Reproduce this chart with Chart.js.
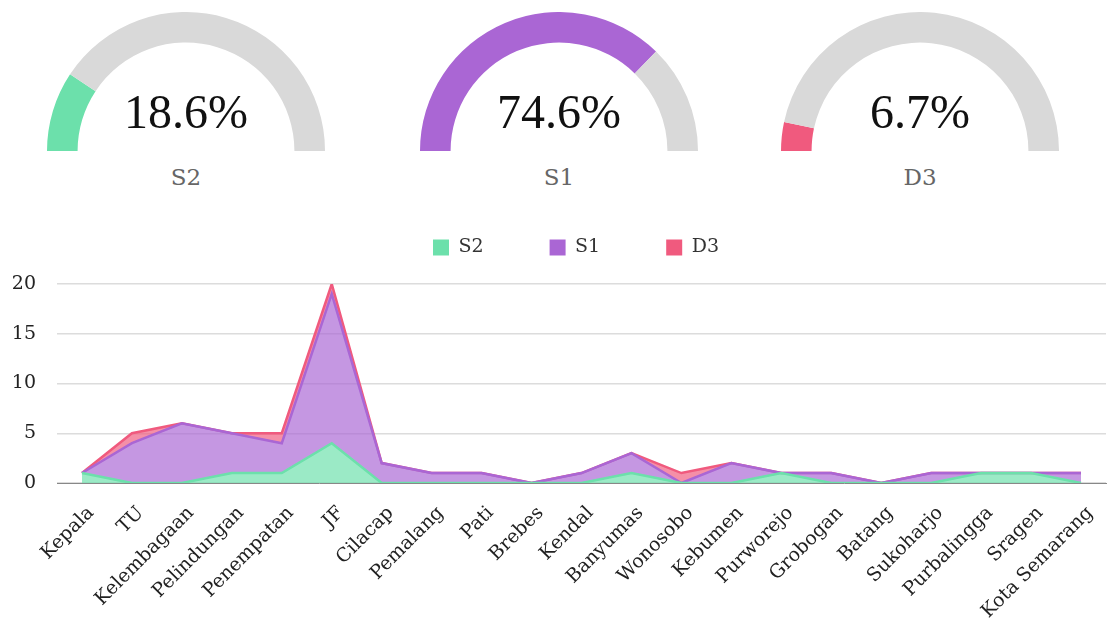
<!DOCTYPE html>
<html>
<head>
<meta charset="utf-8">
<script src="https://cdn.jsdelivr.net/npm/chart.js@4.4.1/dist/chart.umd.min.js"></script>
<style>
  body { margin: 0; background: #fff; width: 1110px; height: 622px; overflow: hidden; position: relative; font-family: "DejaVu Serif", serif; }
  .gauge { position: absolute; top: 12px; width: 278px; height: 139px; }
  .persen { position: absolute; top: 84px; width: 278px; text-align: center; font-family: "Liberation Serif", serif; font-size: 48px; color: #111; }
  .nama { position: absolute; top: 164px; width: 278px; text-align: center; font-size: 23px; color: #666; }
  #wrapLine { position: absolute; left: 0; top: 172px; width: 1110px; height: 450px; }
</style>
</head>
<body>
<div class="gauge" style="left:47px"><canvas id="gauge0"></canvas></div>
<div class="gauge" style="left:420px"><canvas id="gauge1"></canvas></div>
<div class="gauge" style="left:781px"><canvas id="gauge2"></canvas></div>
<div class="persen" id="persen0" style="left:47px"></div>
<div class="persen" id="persen1" style="left:420px"></div>
<div class="persen" id="persen2" style="left:781px"></div>
<div class="nama" id="nama0" style="left:47px"></div>
<div class="nama" id="nama1" style="left:420px"></div>
<div class="nama" id="nama2" style="left:781px"></div>
<div id="wrapLine"><canvas id="chartPendidikan"></canvas></div>

<script>
// data pendidikan per unit
const unitKerja = ['Kepala', 'TU', 'Kelembagaan', 'Pelindungan', 'Penempatan', 'JF', 'Cilacap', 'Pemalang', 'Pati', 'Brebes', 'Kendal', 'Banyumas', 'Wonosobo', 'Kebumen', 'Purworejo', 'Grobogan', 'Batang', 'Sukoharjo', 'Purbalingga', 'Sragen', 'Kota Semarang']
const dataS2 = [1, 0, 0, 1, 1, 4, 0, 0, 0, 0, 0, 1, 0, 0, 1, 0, 0, 0, 1, 1, 0]
const dataS1 = [0, 4, 6, 4, 3, 15, 2, 1, 1, 0, 1, 2, 0, 2, 0, 1, 0, 1, 0, 0, 1]
const dataD3 = [0, 1, 0, 0, 1, 1, 0, 0, 0, 0, 0, 0, 1, 0, 0, 0, 0, 0, 0, 0, 0]

const jenjang = ['S2', 'S1', 'D3']
const persenJenjang = [18.6, 74.6, 6.7]
const yTicks = [0, 5, 10, 15, 20]

const warna = ['#6ce0ab', '#aa66d4', '#f05a7e']
const warnaArea = ['rgba(108, 224, 171, 0.68)', 'rgba(170, 102, 212, 0.68)', 'rgba(240, 90, 126, 0.68)']

// gauge setengah lingkaran
jenjang.forEach(function (nama, i) {
    document.getElementById('persen' + i).textContent = persenJenjang[i] + '%'
    document.getElementById('nama' + i).textContent = nama

    const ctxGauge = document.getElementById('gauge' + i).getContext('2d')
    new Chart(ctxGauge, {
        type: 'doughnut',
        data: {
            labels: [nama, ''],
            datasets: [{
                data: [persenJenjang[i], 100 - persenJenjang[i]],
                backgroundColor: [warna[i], '#d9d9d9'],
                borderWidth: 0,
                hoverOffset: 0
            }]
        },
        options: {
            responsive: true,
            maintainAspectRatio: false,
            animation: false,
            rotation: -90,
            circumference: 180,
            cutout: '78%',
            plugins: {
                legend: { display: false },
                tooltip: { enabled: false }
            }
        }
    })
})

// legend dikasih jarak ke bawah, digeser sedikit ke kanan
const jarakLegend = {
    id: 'jarakLegend',
    beforeInit(chart) {
        const fitAsli = chart.legend.fit
        chart.legend.fit = function fit() {
            fitAsli.bind(chart.legend)()
            this.height = 112
            if (this.lineWidths && this.lineWidths.length) {
                this.lineWidths[0] -= 34
            }
        }
    }
}

const datasetsLine = [dataS2, dataS1, dataD3].map(function (isi, i) {
    return {
        label: jenjang[i],
        data: isi,
        borderColor: warna[i],
        backgroundColor: warnaArea[i],
        borderWidth: 2.5,
        pointRadius: 0,
        tension: 0,
        fill: i === 0 ? 'origin' : '-1'
    }
})

const ctxLine = document.getElementById('chartPendidikan').getContext('2d')
const chartPendidikan = new Chart(ctxLine, {
    type: 'line',
    data: {
        labels: unitKerja,
        datasets: datasetsLine
    },
    plugins: [jarakLegend],
    options: {
        responsive: true,
        maintainAspectRatio: false,
        animation: false,
        layout: {
            padding: { left: 12, right: 4, bottom: 3 }
        },
        plugins: {
            legend: {
                display: true,
                labels: {
                    color: '#333',
                    boxWidth: 16,
                    boxHeight: 16,
                    padding: 66,
                    font: { family: 'DejaVu Serif', size: 19 },
                    generateLabels: function (chart) {
                        const items = Chart.defaults.plugins.legend.labels.generateLabels(chart)
                        items.forEach(function (item, i) {
                            item.fillStyle = warna[i]
                            item.strokeStyle = warna[i]
                            item.lineWidth = 0
                        })
                        return items
                    }
                }
            },
            tooltip: { enabled: false }
        },
        scales: {
            x: {
                offset: true,
                grid: { display: false },
                border: { color: '#888' },
                afterFit: function (scale) {
                    scale.paddingLeft = 0
                    scale.paddingRight = 0
                    scale.height = 136
                },
                ticks: {
                    color: '#222',
                    maxRotation: 45,
                    minRotation: 45,
                    autoSkip: false,
                    labelOffset: 9,
                    padding: 11,
                    font: { family: 'DejaVu Serif', size: 19 }
                }
            },
            y: {
                stacked: true,
                min: 0,
                max: 20,
                afterBuildTicks: function (axis) {
                    axis.ticks = yTicks.map(v => ({ value: v }))
                },
                afterFit: function (scale) {
                    scale.width = 45
                },
                grid: { color: '#dcdcdc', lineWidth: 1.5, drawTicks: false },
                border: { display: false },
                ticks: {
                    color: '#222',
                    padding: 21,
                    font: { family: 'DejaVu Serif', size: 19 }
                }
            }
        }
    }
})
</script>
</body>
</html>
